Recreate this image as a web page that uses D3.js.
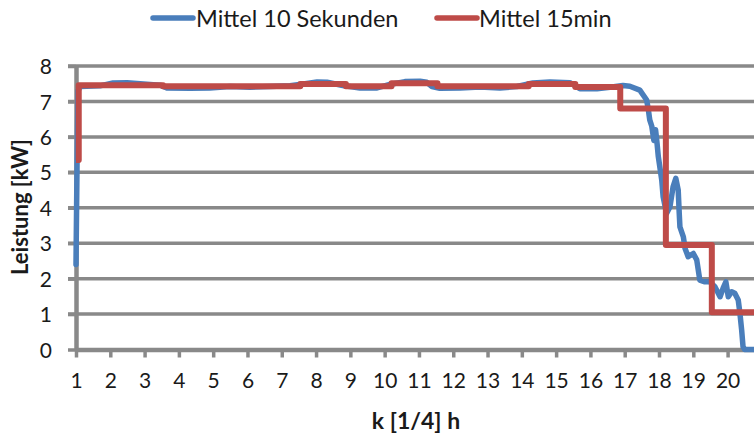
<!DOCTYPE html>
<html>
<head>
<meta charset="utf-8">
<script src="https://cdn.jsdelivr.net/npm/d3@7"></script>
<style>
  html, body { margin: 0; padding: 0; background: #fff; }
  svg { display: block; font-family: Lato, "DejaVu Sans", sans-serif; }
</style>
</head>
<body>
<svg id="chart" width="754" height="435"></svg>
<script>
// ---- data ----
const seriesNames = ["Mittel 10 Sekunden", "Mittel 15min"];
const xTickLabels = d3.range(1, 21);          // 1 ... 20
const yTickLabels = [0, 1, 2, 3, 4, 5, 6, 7, 8];

// 10-second mean (k in quarter-hour label units, value in kW)
const blueK = [1.0, 1.03, 1.06, 1.12, 1.7, 2.08, 2.49, 2.87, 3.45, 3.65, 4.32, 4.9, 5.49, 6.07, 6.66, 7.24, 7.68, 8.03, 8.32, 8.78,
  9.28, 9.78, 10.15, 10.59, 11.03, 11.23, 11.38, 11.61, 12.2, 12.78, 13.36, 13.86, 14.32, 14.82, 15.4, 15.69, 16.19, 16.57, 16.95,
  17.15, 17.44, 17.64, 17.69, 17.73, 17.79, 17.85, 17.9, 17.94, 17.98, 18.08, 18.12, 18.22, 18.32, 18.41, 18.49, 18.56, 18.59, 18.61,
  18.71, 18.76, 18.85, 19.0, 19.1, 19.19, 19.34, 19.48, 19.63, 19.78, 19.87, 19.95, 20.02, 20.12, 20.21, 20.31, 20.36, 20.41, 20.45, 20.5, 20.77];
const blueKW = [2.4, 5.2, 7.3, 7.42, 7.44, 7.52, 7.53, 7.5, 7.46, 7.38, 7.37, 7.38, 7.42, 7.4, 7.42, 7.44, 7.5, 7.55, 7.54, 7.45,
  7.38, 7.38, 7.48, 7.56, 7.57, 7.54, 7.42, 7.37, 7.38, 7.41, 7.38, 7.42, 7.52, 7.55, 7.53, 7.36, 7.36, 7.4, 7.45,
  7.43, 7.32, 7.04, 6.76, 6.48, 6.3, 5.9, 6.2, 5.85, 5.44, 4.78, 4.31, 3.84, 4.03, 4.59, 4.83, 4.5, 3.84, 3.46,
  3.18, 2.85, 2.62, 2.71, 2.53, 1.96, 1.91, 1.91, 1.77, 1.49, 1.73, 1.91, 1.49, 1.63, 1.59, 1.4, 1.02, 0.55, 0.08, 0, 0];

// 15-minute mean: step start positions and values
const redK  = [1.0, 1.08, 2.2, 3.54, 4.87, 6.21, 7.54, 8.87, 10.2, 11.54, 12.87, 14.2, 15.56, 16.87, 18.2, 19.54, 20.77];
const redKW = [5.35, 7.46, 7.46, 7.43, 7.43, 7.43, 7.49, 7.43, 7.51, 7.43, 7.43, 7.49, 7.41, 6.8, 2.95, 1.05, 1.05];

// ---- layout ----
const svg = d3.select("#chart");
const x = d3.scaleLinear().domain([1, 20.77]).range([76, 754]);
const y = d3.scaleLinear().domain([0, 8]).range([349.5, 66]);
const gridColor = "#898989";
const blue = "#4A7EBB", red = "#BE4B48";
const textColor = "#1a1a1a";

// gridlines
svg.append("g").selectAll("line").data(yTickLabels.filter(d => d > 0)).join("line")
  .attr("x1", 68).attr("x2", 754)
  .attr("y1", d => y(d)).attr("y2", d => y(d))
  .attr("stroke", gridColor).attr("stroke-width", 3.5);

// y axis
const yAxis = svg.append("g").attr("transform", "translate(76,0)")
  .call(d3.axisLeft(y).tickValues(yTickLabels).tickSize(8).tickSizeOuter(0).tickPadding(16));
// x axis
const xAxis = svg.append("g").attr("transform", `translate(0,${y(0)})`)
  .call(d3.axisBottom(x).tickValues(xTickLabels).tickFormat(d3.format("d")).tickSize(8).tickSizeOuter(0).tickPadding(16));

[yAxis, xAxis].forEach(a => {
  a.select(".domain").attr("stroke", gridColor).attr("stroke-width", 4.5);
  a.selectAll(".tick line").attr("stroke", gridColor).attr("stroke-width", 3.5);
  a.selectAll(".tick text").attr("fill", textColor).attr("font-size", 21)
    .attr("font-family", "Lato, 'DejaVu Sans', sans-serif");
});
yAxis.selectAll(".tick text").attr("dy", "0.36em");

// series
const blueData = blueK.map((k, i) => [k, blueKW[i]]);
const redData = redK.map((k, i) => [k, redKW[i]]);

svg.append("path").datum(blueData)
  .attr("fill", "none").attr("stroke", blue).attr("stroke-width", 5.5)
  .attr("stroke-linejoin", "round").attr("stroke-linecap", "round")
  .attr("d", d3.line().x(d => x(d[0])).y(d => y(d[1])));

svg.append("path").datum(redData)
  .attr("fill", "none").attr("stroke", red).attr("stroke-width", 6)
  .attr("stroke-linejoin", "round").attr("stroke-linecap", "butt")
  .attr("d", d3.line().curve(d3.curveStepAfter).x(d => x(d[0])).y(d => y(d[1])));

// axis titles
svg.append("text").attr("x", 416).attr("y", 429).attr("text-anchor", "middle")
  .attr("font-size", 23).attr("font-weight", "bold").attr("fill", textColor)
  .text("k [1/4] h");
svg.append("text").attr("transform", "translate(28,207) rotate(-90)").attr("text-anchor", "middle")
  .attr("font-size", 22).attr("font-weight", "bold").attr("fill", textColor)
  .text("Leistung [kW]");

// legend
const legend = [
  { name: seriesNames[0], color: blue, x0: 153, x1: 193, tx: 196 },
  { name: seriesNames[1], color: red, x0: 437, x1: 477, tx: 479 }
];
const lg = svg.append("g");
lg.selectAll("line").data(legend).join("line")
  .attr("x1", d => d.x0).attr("x2", d => d.x1).attr("y1", 18).attr("y2", 18)
  .attr("stroke", d => d.color).attr("stroke-width", 5.5).attr("stroke-linecap", "round");
lg.selectAll("text").data(legend).join("text")
  .attr("x", d => d.tx).attr("y", 26.5).attr("font-size", 23.5).attr("fill", textColor)
  .text(d => d.name);
</script>
</body>
</html>
